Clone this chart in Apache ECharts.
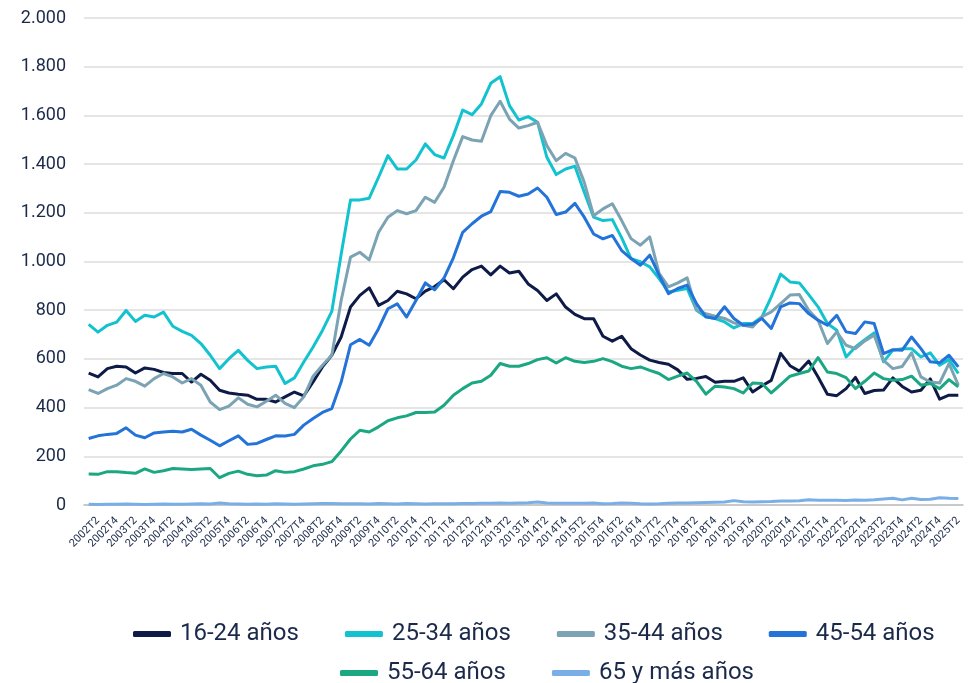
<!DOCTYPE html>
<html>
<head>
<meta charset="utf-8">
<script src="https://cdn.jsdelivr.net/npm/echarts@6/dist/echarts.min.js"></script>
<style>
html,body{margin:0;padding:0;background:#fff;}
#c{width:977px;height:683px;}
</style>
</head>
<body>
<div id="c"></div>
<script>
var categories = [
"2002T1","2002T2","2002T3","2002T4","2003T1","2003T2","2003T3","2003T4",
"2004T1","2004T2","2004T3","2004T4","2005T1","2005T2","2005T3","2005T4",
"2006T1","2006T2","2006T3","2006T4","2007T1","2007T2","2007T3","2007T4",
"2008T1","2008T2","2008T3","2008T4","2009T1","2009T2","2009T3","2009T4",
"2010T1","2010T2","2010T3","2010T4","2011T1","2011T2","2011T3","2011T4",
"2012T1","2012T2","2012T3","2012T4","2013T1","2013T2","2013T3","2013T4",
"2014T1","2014T2","2014T3","2014T4","2015T1","2015T2","2015T3","2015T4",
"2016T1","2016T2","2016T3","2016T4","2017T1","2017T2","2017T3","2017T4",
"2018T1","2018T2","2018T3","2018T4","2019T1","2019T2","2019T3","2019T4",
"2020T1","2020T2","2020T3","2020T4","2021T1","2021T2","2021T3","2021T4",
"2022T1","2022T2","2022T3","2022T4","2023T1","2023T2","2023T3","2023T4",
"2024T1","2024T2","2024T3","2024T4","2025T1","2025T2"
];

var yTicks = [0, 200, 400, 600, 800, 1000, 1200, 1400, 1600, 1800, 2000];

var s16_24 = [542,526,560,570,567,542,563,557,544,540,540,505,537,512,471,460,455,451,434,434,423,444,464,448,505,567,615,690,813,861,892,820,840,878,867,847,878,897,925,888,936,967,981,945,981,953,960,908,881,840,867,813,783,765,765,693,673,693,642,616,595,585,578,555,516,520,528,504,508,508,522,464,490,512,623,572,550,591,526,455,449,478,524,458,470,472,522,487,464,471,518,435,451,451];

var s25_34 = [742,710,738,751,799,754,779,772,792,734,713,697,663,615,560,601,635,594,560,567,570,499,522,587,649,717,795,1030,1253,1253,1260,1346,1435,1380,1380,1417,1483,1439,1425,1517,1622,1603,1647,1732,1759,1640,1581,1595,1572,1428,1357,1380,1391,1284,1182,1168,1172,1097,1012,999,978,930,875,882,889,800,773,766,752,727,745,745,773,855,948,916,912,864,814,745,718,608,649,679,707,588,636,642,642,608,625,574,597,540];

var s35_44 = [474,458,478,492,519,508,488,519,540,526,501,519,492,423,392,406,440,414,403,426,451,417,400,444,529,574,615,840,1018,1038,1007,1120,1182,1209,1196,1209,1264,1243,1305,1414,1513,1499,1494,1599,1658,1585,1548,1558,1572,1476,1414,1444,1425,1325,1188,1216,1237,1168,1094,1067,1101,951,896,912,933,800,786,775,766,748,738,731,773,793,827,862,864,800,759,663,711,656,642,674,697,594,560,569,625,526,505,501,581,492];

var s45_54 = [273,284,290,294,317,287,276,296,300,303,300,311,287,266,243,264,284,249,253,269,284,283,290,328,355,380,396,505,658,680,656,724,806,826,772,840,912,884,932,1015,1120,1155,1186,1205,1287,1284,1268,1277,1302,1264,1193,1203,1239,1182,1113,1093,1107,1045,1012,985,1026,944,868,889,903,827,773,766,814,766,738,742,766,725,814,830,827,786,759,738,779,711,704,752,745,622,638,636,690,642,588,584,615,567];

var s55_64 = [127,126,137,137,133,130,148,134,141,150,148,146,148,150,112,130,139,126,120,123,141,134,137,148,161,167,178,222,271,307,300,321,346,358,366,380,380,382,410,451,478,501,508,533,581,570,570,581,597,605,583,605,590,585,590,601,589,570,560,567,553,540,515,529,542,508,455,488,485,478,460,501,499,460,494,529,540,550,605,546,540,523,478,508,542,519,512,515,529,492,499,478,515,485];

var s65 = [3,2,3,3,4,3,2,3,4,3,3,4,5,4,8,5,4,3,4,3,5,4,3,4,5,6,6,5,5,5,4,6,5,4,6,5,4,5,5,5,6,6,7,7,8,7,8,9,12,8,7,7,7,7,8,5,6,8,7,5,4,5,7,8,8,9,10,11,12,18,13,12,13,14,16,16,17,22,20,19,20,18,21,20,22,25,28,21,28,23,24,30,28,27];

var seriesNames = ["16-24 años","25-34 años","35-44 años","45-54 años","55-64 años","65 y más años"];
var seriesData = [s16_24, s25_34, s35_44, s45_54, s55_64, s65];
var colors = ["#0e1b47","#12c3cf","#7ba3b3","#2373d9","#1ba782","#7aaee6"];

var textColor = "#1b2a4a";
var fontFam = "Roboto, 'Noto Sans', sans-serif";

function fmt(v){
  if (v >= 1000) { var r = v % 1000; return Math.floor(v/1000) + "." + (r < 10 ? "00" : r < 100 ? "0" : "") + r; }
  return String(v);
}

var chart = echarts.init(document.getElementById('c'), null, {renderer:'canvas'});
var series = seriesNames.map(function(n, k){
  return {
    name: n, type: 'line', data: seriesData[k], symbol: 'none', smooth: false,
    lineStyle: {width: 3, color: colors[k], join: 'round'},
    itemStyle: {color: colors[k]},
    z: k === 5 ? 1 : 2
  };
});

var legendCommon = {
  orient: 'horizontal', icon: 'roundRect', itemWidth: 38, itemHeight: 6, itemGap: 46,
  padding: 0,
  textStyle: {color: textColor, fontSize: 24, fontFamily: fontFam, padding: [0,0,0,4]},
  selectedMode: false
};

chart.setOption({
  animation: false,
  backgroundColor: '#ffffff',
  color: colors,
  grid: {left: 84, right: 14, top: 18, bottom: 178, containLabel: false},
  legend: [
    Object.assign({}, legendCommon, {data: seriesNames.slice(0,4), left: 133, top: 622}),
    Object.assign({}, legendCommon, {data: seriesNames.slice(4), left: 340, top: 661})
  ],
  xAxis: {
    type: 'category', data: categories, boundaryGap: true,
    axisLine: {show: true, lineStyle: {color: '#bfbfbf', width: 1.5}},
    axisTick: {show: false},
    axisLabel: {
      rotate: 45, fontSize: 11, color: textColor, fontFamily: fontFam, margin: 14,
      interval: function(i){ return i % 2 === 1; }
    },
    splitLine: {show: false}
  },
  yAxis: {
    type: 'value', min: yTicks[0], max: yTicks[yTicks.length-1], interval: 200,
    axisLine: {show: false}, axisTick: {show: false},
    axisLabel: {fontSize: 18, color: textColor, fontFamily: fontFam, margin: 18, formatter: fmt},
    splitLine: {lineStyle: {color: '#dcdcdc', width: 1.5}}
  },
  series: series
});
</script>
</body>
</html>
